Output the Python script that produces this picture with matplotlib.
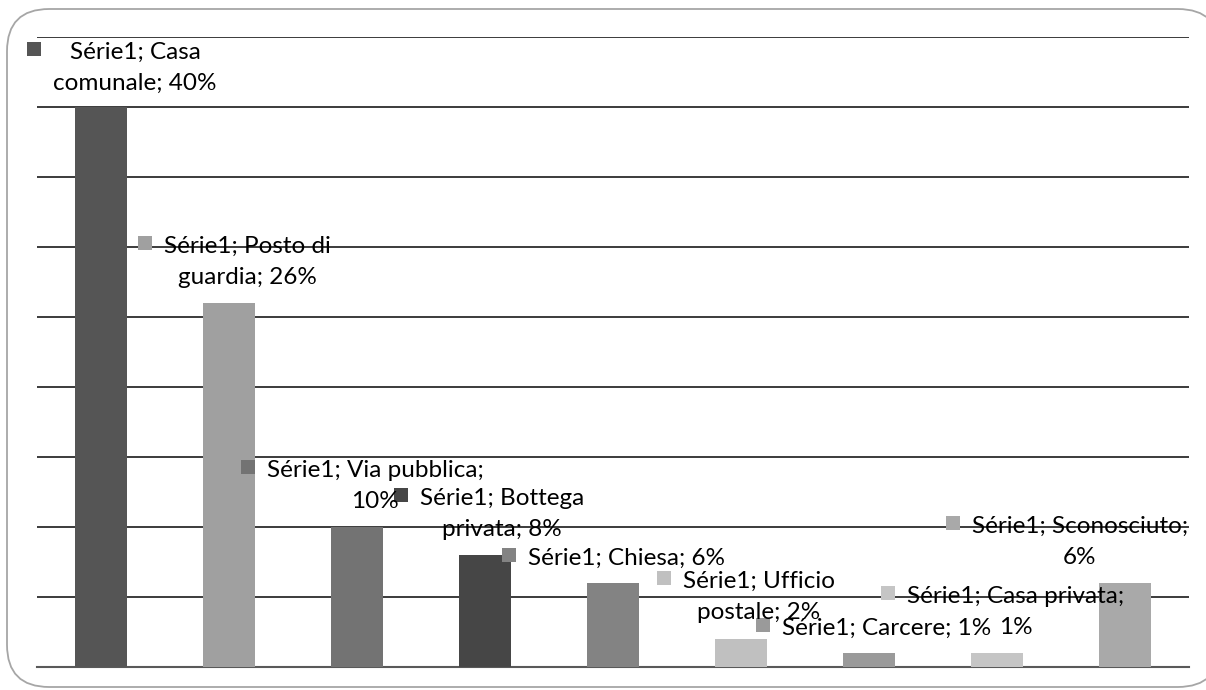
import matplotlib
matplotlib.use("Agg")
import matplotlib.pyplot as plt
from matplotlib.patches import Rectangle, FancyBboxPatch

# data
categories = ["Casa comunale", "Posto di guardia", "Via pubblica", "Bottega privata", "Chiesa",
              "Ufficio postale", "Carcere", "Casa privata", "Sconosciuto"]
values = [40, 26, 10, 8, 6, 2, 1, 1, 6]
series_name = "Série1"
colors = ["#555555", "#a0a0a0", "#737373", "#464646", "#838383",
          "#c0c0c0", "#9a9a9a", "#c5c5c5", "#a9a9a9"]

# label layout: words on first line, block centre x (px), first baseline y (px from top)
first_line_words = [2, 3, 3, 2, None, 2, None, 3, 2]
label_cx = [135, 247, 375, 502, 626, 759, 887, 1016, 1080]
label_base = [59, 253, 477, 505, 565, 588, 635, 603, 533]
line_gap = 31

W, H = 1206, 690
plt.rcParams['font.family'] = ['Lato', 'DejaVu Sans']
fig = plt.figure(figsize=(W / 100, H / 100), dpi=100)

# rounded frame round the whole chart
frame = FancyBboxPatch((7 / W, 1 - 687 / H), (1220 - 7) / W, (687 - 9) / H,
                       boxstyle="round,pad=0,rounding_size=0.035",
                       transform=fig.transFigure, facecolor="white",
                       edgecolor="#a6a6a6", linewidth=1.3, zorder=-5,
                       mutation_aspect=W / H)
fig.patches.append(frame)

ax = fig.add_axes([37 / W, 1 - 667 / H, (1189 - 37) / W, (667 - 37) / H])
ax.set_facecolor("none")
x = range(len(categories))
ax.bar(x, values, width=0.41, color=colors, zorder=3)
ax.set_xlim(-0.5, len(categories) - 0.5)
ax.set_ylim(0, 45)
ax.set_yticks(range(5, 46, 5))
ax.yaxis.grid(True, color="#1a1a1a", linewidth=1.2, zorder=1)
ax.set_axisbelow(True)
for s in ["top", "left", "right"]:
    ax.spines[s].set_visible(False)
ax.spines["bottom"].set_color("#595959")
ax.spines["bottom"].set_linewidth(1.5)
ax.set_xticks([])
ax.tick_params(left=False, labelleft=False)

fig.canvas.draw()
renderer = fig.canvas.get_renderer()

for i, cat in enumerate(categories):
    words = f"{series_name}; {cat}; {values[i]}%".split()
    n = first_line_words[i]
    lines = [" ".join(words)] if n is None else [" ".join(words[:n]), " ".join(words[n:])]
    left = None
    for j, ln in enumerate(lines):
        t = fig.text(label_cx[i] / W, 1 - (label_base[i] + j * line_gap) / H, ln,
                     ha="center", va="baseline", fontsize=17.5, color="black", zorder=5)
        bb = t.get_window_extent(renderer)
        left = bb.x0 if left is None else min(left, bb.x0)
    # square marker left of the label block
    ms = 14
    mx = left - 12 - ms
    my = H - (label_base[i] - 10) - ms / 2
    fig.patches.append(Rectangle((mx / W, my / H), ms / W, ms / H, transform=fig.transFigure,
                                 facecolor=colors[i], edgecolor="none", zorder=5))

fig.savefig("out.png", dpi=100)
